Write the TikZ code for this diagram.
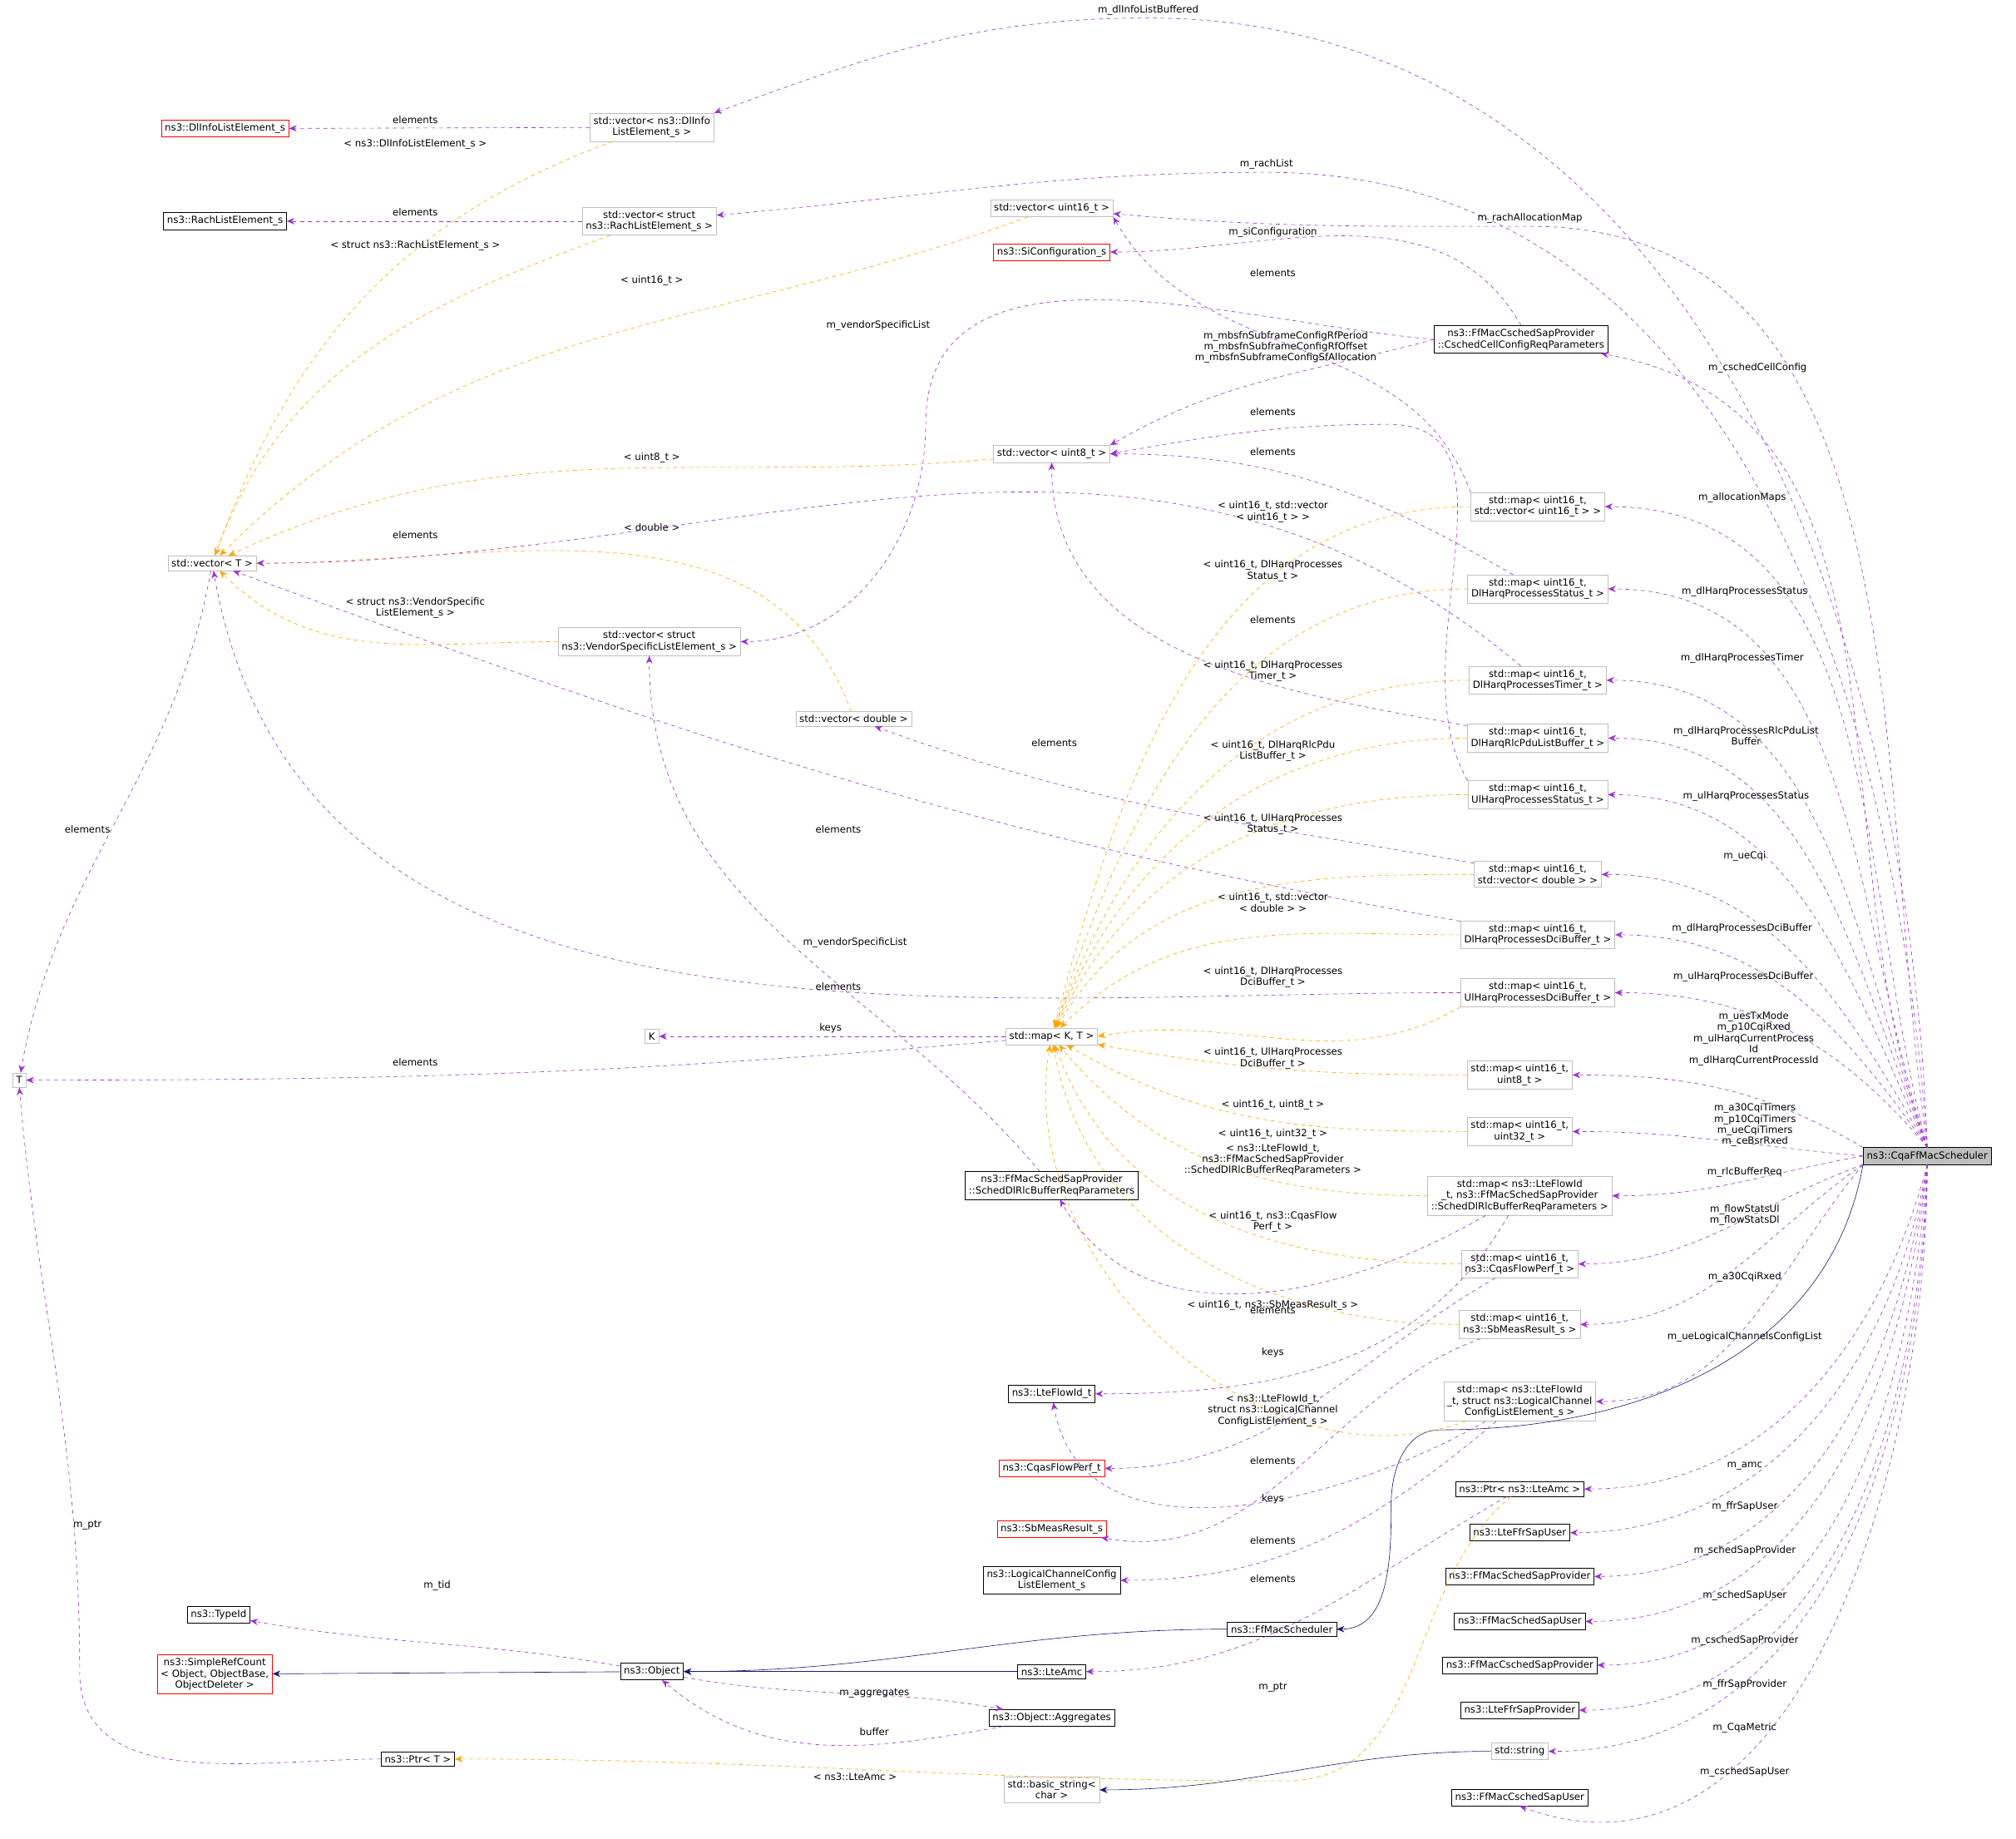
\documentclass[tikz,border=0pt]{standalone}
\usepackage{fontspec}
\setmainfont{DejaVu Sans}
\usetikzlibrary{positioning, arrows.meta}

\definecolor{memc}{HTML}{9A32CD}
\definecolor{tplc}{HTML}{FFA500}
\definecolor{inhc}{HTML}{191970}
\definecolor{grayb}{HTML}{BFBFBF}

\tikzset{
  cls/.style={draw=black, fill=white, align=center, inner sep=2.8pt, font=\fontsize{7.6}{8.6}\selectfont},
  gcls/.style={cls, draw=grayb},
  rcls/.style={cls, draw=red},
  sel/.style={cls, fill=black!25},
  mem/.style={draw=memc, dashed, -{Stealth[length=6pt,width=5pt]}},
  tpl/.style={draw=tplc, dashed, -{Stealth[length=6pt,width=5pt]}},
  inh/.style={draw=inhc, -{Stealth[length=6pt,width=5pt]}},
  lbl/.style={align=center, inner sep=0pt, font=\fontsize{7.6}{8.6}\selectfont}
}

\begin{document}
\begin{tikzpicture}[x=1pt, y=-1pt]
    \useasboundingbox (0,0) rectangle (1568,1430);

    % Classes
    \node[sel]  (sched)   at (1499,899) {ns3::CqaFfMacScheduler};
    \node[gcls] (vdlinfo) at (507,99)   {std::vector< ns3::DlInfo\\ListElement\_s >};
    \node[rcls] (dlinfo)  at (175,100)  {ns3::DlInfoListElement\_s};
    \node[cls]  (rach)    at (175,172)  {ns3::RachListElement\_s};
    \node[gcls] (vrach)   at (505,172)  {std::vector< struct\\ ns3::RachListElement\_s >};
    \node[gcls] (vu16)    at (818,162)  {std::vector< uint16\_t >};
    \node[rcls] (sicfg)   at (818,196)  {ns3::SiConfiguration\_s};
    \node[cls]  (cellcfg) at (1183,264) {ns3::FfMacCschedSapProvider\\::CschedCellConfigReqParameters};
    \node[gcls] (vu8)     at (818,353)  {std::vector< uint8\_t >};
    \node[gcls] (vT)      at (165,438)  {std::vector< T >};
    \node[gcls] (vvend)   at (505,499)  {std::vector< struct\\ ns3::VendorSpecificListElement\_s >};
    \node[gcls] (vdbl)    at (664,559)  {std::vector< double >};
    \node[gcls] (malloc)  at (1196,394) {std::map< uint16\_t,\\ std::vector< uint16\_t > >};
    \node[gcls] (mdlst)   at (1196,458) {std::map< uint16\_t,\\ DlHarqProcessesStatus\_t >};
    \node[gcls] (mdltm)   at (1196,529) {std::map< uint16\_t,\\ DlHarqProcessesTimer\_t >};
    \node[gcls] (mrlc)    at (1196,574) {std::map< uint16\_t,\\ DlHarqRlcPduListBuffer\_t >};
    \node[gcls] (mulst)   at (1196,618) {std::map< uint16\_t,\\ UlHarqProcessesStatus\_t >};
    \node[gcls] (mcqi)    at (1196,680) {std::map< uint16\_t,\\ std::vector< double > >};
    \node[gcls] (mdldci)  at (1196,727) {std::map< uint16\_t,\\ DlHarqProcessesDciBuffer\_t >};
    \node[gcls] (muldci)  at (1196,772) {std::map< uint16\_t,\\ UlHarqProcessesDciBuffer\_t >};
    \node[gcls] (K)       at (507,806)  {K};
    \node[gcls] (mKT)     at (818,806)  {std::map< K, T >};
    \node[gcls] (T)       at (15,840)   {T};
    \node[gcls] (mu8)     at (1182,836) {std::map< uint16\_t,\\ uint8\_t >};
    \node[gcls] (mu32)    at (1182,880) {std::map< uint16\_t,\\ uint32\_t >};
    \node[cls]  (rlcreq)  at (818,922)  {ns3::FfMacSchedSapProvider\\::SchedDlRlcBufferReqParameters};
    \node[gcls] (mrlcreq) at (1182,930) {std::map< ns3::LteFlowId\\\_t, ns3::FfMacSchedSapProvider\\::SchedDlRlcBufferReqParameters >};
    \node[gcls] (mflow)   at (1182,983) {std::map< uint16\_t,\\ ns3::CqasFlowPerf\_t >};
    \node[gcls] (msb)     at (1182,1030) {std::map< uint16\_t,\\ ns3::SbMeasResult\_s >};
    \node[gcls] (mlch)    at (1182,1090) {std::map< ns3::LteFlowId\\\_t, struct ns3::LogicalChannel\\ConfigListElement\_s >};
    \node[cls]  (flowid)  at (818,1084) {ns3::LteFlowId\_t};
    \node[rcls] (flowperf) at (818,1142) {ns3::CqasFlowPerf\_t};
    \node[rcls] (sbres)   at (818,1189) {ns3::SbMeasResult\_s};
    \node[cls]  (lchcfg)  at (818,1229) {ns3::LogicalChannelConfig\\ListElement\_s};
    \node[cls]  (pamc)    at (1182,1158) {ns3::Ptr< ns3::LteAmc >};
    \node[cls]  (ffruser) at (1182,1192) {ns3::LteFfrSapUser};
    \node[cls]  (sprov)   at (1182,1226) {ns3::FfMacSchedSapProvider};
    \node[cls]  (suser)   at (1182,1261) {ns3::FfMacSchedSapUser};
    \node[cls]  (csprov)  at (1182,1295) {ns3::FfMacCschedSapProvider};
    \node[cls]  (ffrprov) at (1182,1330) {ns3::LteFfrSapProvider};
    \node[gcls] (str)     at (1182,1362) {std::string};
    \node[cls]  (csuser)  at (1182,1398) {ns3::FfMacCschedSapUser};
    \node[cls]  (ffsched) at (997,1267) {ns3::FfMacScheduler};
    \node[cls]  (typeid)  at (170,1256) {ns3::TypeId};
    \node[rcls] (refcnt)  at (167,1302) {ns3::SimpleRefCount\\< Object, ObjectBase,\\ ObjectDeleter >};
    \node[cls]  (obj)     at (507,1300) {ns3::Object};
    \node[cls]  (amc)     at (818,1300) {ns3::LteAmc};
    \node[cls]  (aggr)    at (818,1336) {ns3::Object::Aggregates};
    \node[cls]  (ptrT)    at (325,1368) {ns3::Ptr< T >};
    \node[gcls] (bstr)    at (818,1392) {std::basic\_string<\\ char >};

    % Members of the scheduler
    \draw[mem] (sched.north) to[out=92, in=0] (893,14) to[out=180, in=20] (vdlinfo.north east);
    \draw[mem] (sched.north) to[out=94, in=0] (985,134) to[out=180, in=5] (vrach);
    \draw[mem] (sched.north) to[out=98, in=0] (1190,176) to[out=180, in=-5] (vu16);
    \draw[mem] (sched.north) to[out=110, in=-10] (cellcfg);
    \draw[mem] (sched.north) to[out=105, in=0] (malloc);
    \draw[mem] (sched.north) to[out=108, in=0] (mdlst);
    \draw[mem] (sched.north) to[out=110, in=0] (mdltm);
    \draw[mem] (sched.north) to[out=112, in=0] (mrlc);
    \draw[mem] (sched.north) to[out=115, in=0] (mulst);
    \draw[mem] (sched.north) to[out=120, in=0] (mcqi);
    \draw[mem] (sched.north) to[out=125, in=0] (mdldci);
    \draw[mem] (sched.north) to[out=130, in=0] (muldci);
    \draw[mem] (sched.north west) to[out=150, in=0] (mu8);
    \draw[mem] (sched.west) to[out=175, in=0] (mu32);
    \draw[mem] (sched.west) to[out=190, in=0] (mrlcreq);
    \draw[mem] (sched.south west) to[out=200, in=0] (mflow);
    \draw[mem] (sched.south west) to[out=215, in=0] (msb);
    \draw[mem] (sched.south west) to[out=230, in=0] (mlch);
    \draw[mem] (sched.south) to[out=-105, in=0] (pamc);
    \draw[mem] (sched.south) to[out=-100, in=0] (ffruser);
    \draw[mem] (sched.south) to[out=-98, in=0] (sprov);
    \draw[mem] (sched.south) to[out=-96, in=0] (suser);
    \draw[mem] (sched.south) to[out=-94, in=0] (csprov);
    \draw[mem] (sched.south) to[out=-92, in=0] (ffrprov);
    \draw[mem] (sched.south) to[out=-91, in=0] (str);
    \draw[mem] (sched.south) to[out=-90, in=-20] (csuser.south);
    \draw[inh] (sched.south west) to[out=-100, in=0] (1120,1112) to[out=180, in=90] (1082,1170) to[out=-90, in=0] (ffsched.east);

    \node[lbl] at (893,8)   {m\_dlInfoListBuffered};
    \node[lbl] at (985,128) {m\_rachList};
    \node[lbl] at (1190,170) {m\_rachAllocationMap};
    \node[lbl] at (1367,286) {m\_cschedCellConfig};
    \node[lbl] at (1355,387) {m\_allocationMaps};
    \node[lbl] at (1357,460) {m\_dlHarqProcessesStatus};
    \node[lbl] at (1355,512) {m\_dlHarqProcessesTimer};
    \node[lbl] at (1358,572) {m\_dlHarqProcessesRlcPduList\\Buffer};
    \node[lbl] at (1358,619) {m\_ulHarqProcessesStatus};
    \node[lbl] at (1357,666) {m\_ueCqi};
    \node[lbl] at (1355,722) {m\_dlHarqProcessesDciBuffer};
    \node[lbl] at (1356,760) {m\_ulHarqProcessesDciBuffer};
    \node[lbl] at (1364,808) {m\_uesTxMode\\m\_p10CqiRxed\\m\_ulHarqCurrentProcess\\Id\\m\_dlHarqCurrentProcessId};
    \node[lbl] at (1365,875) {m\_a30CqiTimers\\m\_p10CqiTimers\\m\_ueCqiTimers\\m\_ceBsrRxed};
    \node[lbl] at (1357,912) {m\_rlcBufferReq};
    \node[lbl] at (1357,945) {m\_flowStatsUl\\m\_flowStatsDl};
    \node[lbl] at (1357,993) {m\_a30CqiRxed};
    \node[lbl] at (1357,1040) {m\_ueLogicalChannelsConfigList};
    \node[lbl] at (1357,1140) {m\_amc};
    \node[lbl] at (1357,1172) {m\_ffrSapUser};
    \node[lbl] at (1357,1206) {m\_schedSapProvider};
    \node[lbl] at (1357,1241) {m\_schedSapUser};
    \node[lbl] at (1357,1276) {m\_cschedSapProvider};
    \node[lbl] at (1357,1310) {m\_ffrSapProvider};
    \node[lbl] at (1357,1344) {m\_CqaMetric};
    \node[lbl] at (1357,1378) {m\_cschedSapUser};

    % Vectors
    \draw[mem] (vdlinfo) -- (dlinfo);
    \draw[tpl] (vdlinfo) to[out=200, in=70] (vT);
    \draw[mem] (vrach) -- (rach);
    \draw[tpl] (vrach) to[out=200, in=70] (vT);
    \draw[tpl] (vu16) to[out=200, in=45] (vT);
    \draw[tpl] (vu8) to[out=185, in=25] (vT);
    \draw[tpl] (vvend) to[out=180, in=-45] (vT);
    \draw[tpl] (vdbl) to[out=110, in=0] (vT);
    \draw[mem] (vT) to[out=-100, in=80] (T);
    \node[lbl] at (323,93)  {elements};
    \node[lbl] at (323,112) {< ns3::DlInfoListElement\_s >};
    \node[lbl] at (323,165) {elements};
    \node[lbl] at (323,191) {< struct ns3::RachListElement\_s >};
    \node[lbl] at (507,218) {< uint16\_t >};
    \node[lbl] at (507,356) {< uint8\_t >};
    \node[lbl] at (323,473) {< struct ns3::VendorSpecific\\ListElement\_s >};
    \node[lbl] at (507,410) {< double >};
    \node[lbl] at (68,645)  {elements};

    % Cell configuration
    \draw[mem] (cellcfg.north) to[out=120, in=0] (sicfg.east);
    \draw[mem] (cellcfg.west) to[out=175, in=90] (720,330) to[out=-90, in=0] (vvend);
    \draw[mem] (cellcfg.west) to[out=195, in=30] (vu8.north east);
    \node[lbl] at (990,181) {m\_siConfiguration};
    \node[lbl] at (683,253) {m\_vendorSpecificList};
    \node[lbl] at (1000,270) {m\_mbsfnSubframeConfigRfPeriod\\m\_mbsfnSubframeConfigRfOffset\\m\_mbsfnSubframeConfigSfAllocation};

    % Maps
    \draw[mem] (malloc.north west) to[out=110, in=-60] (vu16.south east);
    \draw[mem] (mulst.north west) to[out=120, in=0] (1080,330) to[out=180, in=10] (vu8.east);
    \draw[mem] (mdlst) to[out=150, in=0] (vu8);
    \draw[mem] (mdltm) to[out=140, in=0] (vT);
    \draw[mem] (mrlc) to[out=170, in=-90] (vu8);
    \draw[mem] (mcqi) to[out=170, in=-20] (vdbl);
    \draw[mem] (mdldci) to[out=170, in=-20] (vT);
    \draw[mem] (muldci) to[out=180, in=-80] (vT);
    \node[lbl] at (990,212) {elements};
    \node[lbl] at (990,320) {elements};
    \node[lbl] at (990,351) {elements};
    \node[lbl] at (323,416) {elements};
    \node[lbl] at (990,482) {elements};
    \node[lbl] at (820,578) {elements};
    \node[lbl] at (652,645) {elements};
    \node[lbl] at (652,767) {elements};

    \draw[tpl] (malloc) to[out=180, in=75] (mKT);
    \draw[tpl] (mdlst) to[out=180, in=72] (mKT);
    \draw[tpl] (mdltm) to[out=180, in=70] (mKT);
    \draw[tpl] (mrlc) to[out=180, in=68] (mKT);
    \draw[tpl] (mulst) to[out=180, in=65] (mKT);
    \draw[tpl] (mcqi) to[out=180, in=60] (mKT);
    \draw[tpl] (mdldci) to[out=180, in=45] (mKT);
    \draw[tpl] (muldci.south west) to[out=-150, in=10] (mKT.east);
    \draw[tpl] (mu8) to[out=180, in=-10] (mKT);
    \draw[tpl] (mu32) to[out=180, in=-30] (mKT);
    \draw[tpl] (mrlcreq) to[out=180, in=-50] (mKT);
    \draw[tpl] (mflow) to[out=180, in=-70] (mKT);
    \draw[tpl] (msb) to[out=180, in=-80] (mKT);
    \draw[tpl] (mlch) to[out=200, in=-100] (mKT);
    \node[lbl] at (990,398) {< uint16\_t, std::vector\\< uint16\_t > >};
    \node[lbl] at (990,444) {< uint16\_t, DlHarqProcesses\\Status\_t >};
    \node[lbl] at (990,522) {< uint16\_t, DlHarqProcesses\\Timer\_t >};
    \node[lbl] at (990,584) {< uint16\_t, DlHarqRlcPdu\\ListBuffer\_t >};
    \node[lbl] at (990,641) {< uint16\_t, UlHarqProcesses\\Status\_t >};
    \node[lbl] at (990,702) {< uint16\_t, std::vector\\< double > >};
    \node[lbl] at (990,760) {< uint16\_t, DlHarqProcesses\\DciBuffer\_t >};
    \node[lbl] at (990,823) {< uint16\_t, UlHarqProcesses\\DciBuffer\_t >};
    \node[lbl] at (990,859) {< uint16\_t, uint8\_t >};
    \node[lbl] at (990,882) {< uint16\_t, uint32\_t >};
    \node[lbl] at (990,902) {< ns3::LteFlowId\_t,\\ns3::FfMacSchedSapProvider\\::SchedDlRlcBufferReqParameters >};
    \node[lbl] at (990,950) {< uint16\_t, ns3::CqasFlow\\Perf\_t >};
    \node[lbl] at (990,1015) {< uint16\_t, ns3::SbMeasResult\_s >};
    \node[lbl] at (990,1097) {< ns3::LteFlowId\_t,\\struct ns3::LogicalChannel\\ConfigListElement\_s >};

    \draw[mem] (mKT) -- (K);
    \draw[mem] (mKT) to[out=185, in=0] (T);
    \node[lbl] at (646,800) {keys};
    \node[lbl] at (323,826) {elements};

    \draw[mem] (mrlcreq) to[out=-150, in=-60] (rlcreq);
    \draw[mem] (mrlcreq) to[out=-120, in=0] (flowid);
    \draw[mem] (mflow) to[out=-150, in=0] (flowperf);
    \draw[mem] (mlch) to[out=-150, in=-80] (flowid);
    \draw[mem] (msb) to[out=-160, in=-10] (sbres);
    \draw[mem] (mlch) to[out=-140, in=0] (lchcfg);
    \draw[mem] (rlcreq) to[out=130, in=-90] (vvend);
    \node[lbl] at (990,1019) {elements};
    \node[lbl] at (990,1052) {keys};
    \node[lbl] at (990,1136) {elements};
    \node[lbl] at (990,1166) {keys};
    \node[lbl] at (990,1198) {elements};
    \node[lbl] at (990,1228) {elements};
    \node[lbl] at (665,733) {m\_vendorSpecificList};

    % Object and pointers
    \draw[mem] (ptrT.west) to[out=180, in=-90] (62,1300) to[out=90, in=-85] (T.south);
    \draw[mem] (obj) to[out=170, in=-10] (typeid);
    \draw[inh] (obj) -- (refcnt);
    \draw[inh] (ffsched) to[out=180, in=0] (obj);
    \draw[inh] (amc) -- (obj);
    \draw[mem] (obj) to[out=-10, in=170] (aggr);
    \draw[mem] (aggr) to[out=190, in=-40] (obj);
    \draw[mem] (pamc) to[out=-150, in=0] (amc);
    \draw[tpl] (pamc) to[out=-140, in=0] (1000,1385) to[out=180, in=0] (ptrT);
    \draw[inh] (str) to[out=180, in=0] (bstr);
    \node[lbl] at (68,1186)  {m\_ptr};
    \node[lbl] at (340,1233) {m\_tid};
    \node[lbl] at (680,1317) {m\_aggregates};
    \node[lbl] at (680,1347) {buffer};
    \node[lbl] at (990,1312) {m\_ptr};
    \node[lbl] at (665,1382) {< ns3::LteAmc >};
\end{tikzpicture}
\end{document}
